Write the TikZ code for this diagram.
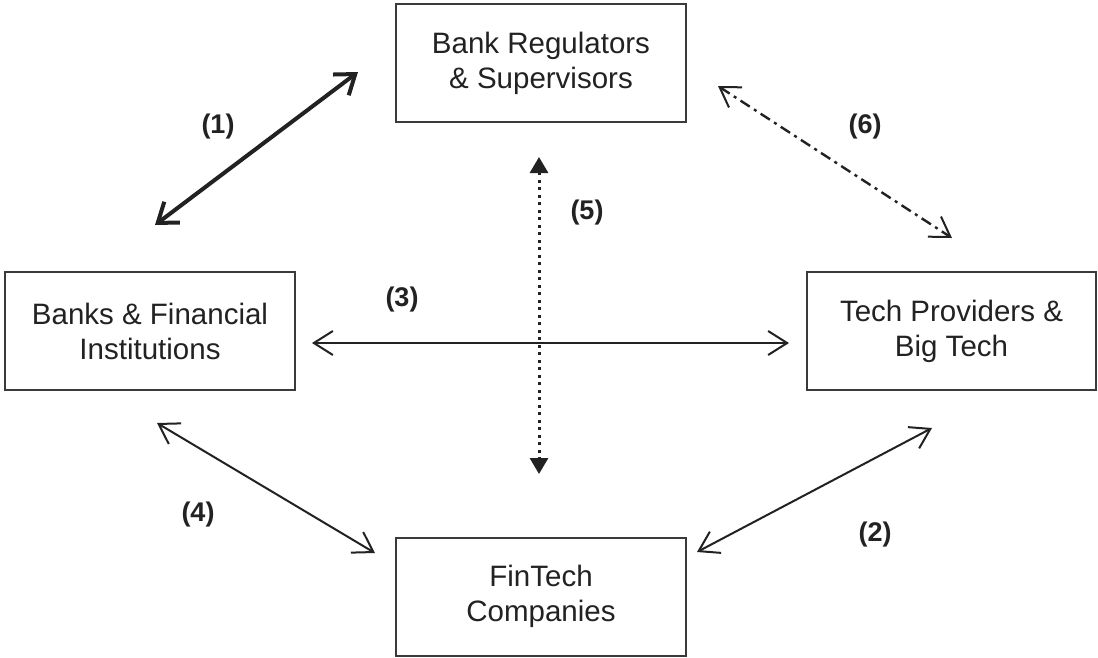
\documentclass[tikz,border=0pt]{standalone}
\usepackage{fontspec}
\setmainfont{Liberation Sans}
\usetikzlibrary{arrows.meta}
\definecolor{ink}{HTML}{222222}
\definecolor{frame}{HTML}{3A3A3A}
\begin{document}
\begin{tikzpicture}[x=1pt,y=-1pt,
  party/.style={draw=frame,line width=2pt,minimum width=290pt,minimum height=118pt,
    inner sep=0pt,align=center,text=ink,font=\fontsize{29.5}{35}\selectfont},
  tag/.style={text=ink,font=\fontsize{27}{32}\selectfont\bfseries},
  barb/.style={draw=ink,line width=2pt,{Straight Barb[length=19pt,width=24pt,line width=2pt]}-{Straight Barb[length=19pt,width=24pt,line width=2pt]}},
  heavybarb/.style={draw=ink,line width=4pt,{Straight Barb[length=18pt,width=26pt,line width=4pt]}-{Straight Barb[length=18pt,width=26pt,line width=4pt]}},
  dashdot/.style={barb,line width=2.4pt,dash pattern=on 11pt off 5pt on 3pt off 5pt},
  dotline/.style={draw=ink,line width=3pt,dash pattern=on 3pt off 4.5pt,
    {Triangle[length=16pt,width=18pt]}-{Triangle[length=16pt,width=18pt]}}
]
\useasboundingbox (0,0) rectangle (1098,657);
\fill[white] (0,0) rectangle (1098,657);

% the four parties
\node[party] (reg)  at (541,63)    {Bank Regulators\\\& Supervisors};
\node[party] (bank) at (150,331)   {Banks \& Financial\\Institutions};
\node[party, minimum width=289pt] (tech) at (951.5,331) {Tech Providers \&\\Big Tech};
\node[party] (fin)  at (541,596.5) {FinTech\\Companies};

% end points of the relations
\coordinate (e1a) at (155,225); \coordinate (e1b) at (358,72);
\coordinate (e6a) at (718,86);  \coordinate (e6b) at (952,238);
\coordinate (e5a) at (539,157); \coordinate (e5b) at (539,474);
\coordinate (e3a) at (312,343); \coordinate (e3b) at (789,343);
\coordinate (e4a) at (157,423); \coordinate (e4b) at (375,553);
\coordinate (e2a) at (932,428); \coordinate (e2b) at (697,552);

% relations
\draw[barb] (e3a) -- (e3b);
\draw[dotline] (e5a) -- (e5b);
\draw[heavybarb] (e1a) -- (e1b);
\draw[dashdot] (e6a) -- (e6b);
\draw[barb] (e4a) -- (e4b);
\draw[barb] (e2a) -- (e2b);

% relation numbers
\node[tag] (t1) at (218,127) {(1)};
\node[tag] (t2) at (875,535) {(2)};
\node[tag] (t3) at (402,300) {(3)};
\node[tag] (t4) at (198,515) {(4)};
\node[tag] (t5) at (587,213) {(5)};
\node[tag] (t6) at (865,127) {(6)};
\end{tikzpicture}
\end{document}
